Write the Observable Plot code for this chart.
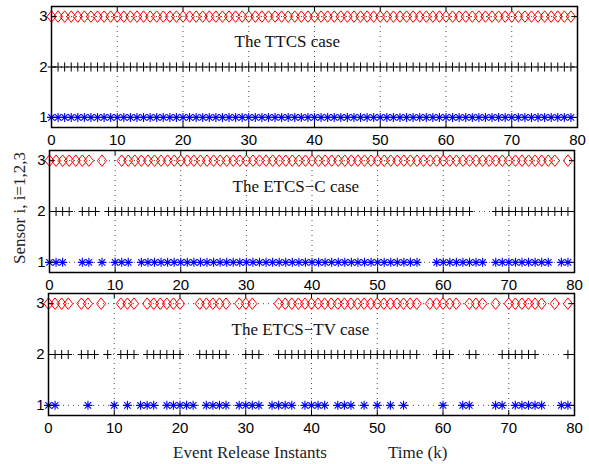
<!DOCTYPE html>
<html>
<head>
<meta charset="utf-8">
<script src="https://cdn.jsdelivr.net/npm/d3@7"></script>
<script src="https://cdn.jsdelivr.net/npm/@observablehq/plot@0.6"></script>
<style>
  html, body { margin: 0; padding: 0; background: white; }
  #chart { position: relative; width: 589px; height: 464px; overflow: hidden; background: white; }
  #chart svg { position: absolute; left: 0; }
  .lbl { position: absolute; font-family: "Liberation Serif", "Times New Roman", serif; font-size: 17px; color: #222; white-space: nowrap; line-height: 20px; }
</style>
</head>
<body>
<div id="chart"></div>
<script>
// ---- data: event release instants k for sensors 1, 2, 3 ----
const xTicks = [0, 10, 20, 30, 40, 50, 60, 70, 80];
const yTicks = [1, 2, 3];
const panelTitles = ["The TTCS case", "The ETCS\u2212C case", "The ETCS\u2212TV case"];

const ttcsInstants = [0,1,2,3,4,5,6,7,8,9,10,11,12,13,14,15,16,17,18,19,20,21,22,23,24,25,26,27,28,29,30,31,32,33,34,35,36,37,38,39,40,41,42,43,44,45,46,47,48,49,50,51,52,53,54,55,56,57,58,59,60,61,62,63,64,65,66,67,68,69,70,71,72,73,74,75,76,77,78,79];

const etcsCSensor3 = [0,1,2,3,4,5,6,8,11,12,13,14,15,16,17,18,19,20,21,22,23,24,25,26,27,28,29,30,31,32,33,34,35,36,37,38,39,40,41,42,43,44,45,46,47,48,49,50,51,52,53,54,55,56,57,58,59,60,61,62,63,64,65,66,67,68,69,70,71,72,73,74,75,76,77,79];
const etcsCSensor2 = [1,2,3,5,6,7,9,10,11,12,13,14,15,16,17,18,19,20,21,22,23,24,25,26,27,28,29,30,31,32,33,34,35,36,37,38,39,40,41,42,43,44,45,46,47,48,49,50,51,52,53,54,55,56,57,58,59,60,61,62,63,64,68,69,70,71,72,73,74,75,76,77,78,79];
const etcsCSensor1 = [0,1,2,5,6,8,10,11,12,14,15,16,17,18,19,20,21,22,23,24,25,26,27,28,29,30,31,32,33,34,35,36,37,38,39,40,41,42,43,44,45,46,47,48,49,50,51,52,53,54,55,56,59,60,61,62,63,64,65,66,68,69,70,71,72,73,74,75,76,78,79];

const etcsTVSensor3 = [0,1,2,3,5,6,8,11,12,13,15,16,17,18,19,20,23,24,25,26,27,29,30,31,35,36,37,38,39,40,41,42,43,44,45,46,47,48,49,50,51,52,53,54,55,56,58,59,60,61,62,64,65,66,68,70,71,72,73,74,75,77,79];
const etcsTVSensor2 = [1,2,3,5,6,7,9,11,12,13,15,16,17,18,19,20,23,24,25,26,27,30,31,32,35,36,37,38,39,40,41,42,43,44,45,46,47,48,49,50,51,52,53,54,55,56,59,60,61,64,65,69,70,71,72,73,74,79];
const etcsTVSensor1 = [0,1,6,10,12,14,15,16,18,19,20,21,22,24,25,26,27,29,30,31,32,34,35,36,37,39,40,41,42,44,45,46,48,50,52,54,60,63,64,68,69,71,72,73,74,75,78,79];

// ---- custom MATLAB-like marker shapes ----
const diamondSym = { draw(ctx, size) { const r = Math.sqrt(size / Math.PI); const h = r * 1.25;
  ctx.moveTo(0, -h); ctx.lineTo(r, 0); ctx.lineTo(0, h); ctx.lineTo(-r, 0); ctx.closePath(); } };
const plusSym = { draw(ctx, size) { const r = Math.sqrt(size / Math.PI); const h = r * 1.2;
  ctx.moveTo(-r, 0); ctx.lineTo(r, 0); ctx.moveTo(0, -h); ctx.lineTo(0, h); } };
const asteriskSym = { draw(ctx, size) { const r = Math.sqrt(size / Math.PI); const d = r * 0.72;
  ctx.moveTo(-r, 0); ctx.lineTo(r, 0); ctx.moveTo(0, -r); ctx.lineTo(0, r);
  ctx.moveTo(-d, -d); ctx.lineTo(d, d); ctx.moveTo(-d, d); ctx.lineTo(d, -d); } };

const chart = document.getElementById("chart");

function panel(cfg) {
  const {s1, s2, s3, title, top, height, mt, mb, ml, mr} = cfg;
  const fw = 589 - ml - mr, fh = height - mt - mb;
  const grid = {stroke: "#000", strokeOpacity: 0.7, strokeDasharray: "1,4", strokeWidth: 1};
  const svg = Plot.plot({
    width: 589, height,
    marginTop: mt, marginBottom: mb, marginLeft: ml, marginRight: mr,
    x: {domain: [0, 80]},
    y: {domain: [0.8, 3.2]},
    style: {background: "transparent", overflow: "visible", fontFamily: "'Liberation Sans', Arial, sans-serif", fontSize: "15px", color: "black"},
    marks: [
      Plot.ruleX(xTicks.slice(1, -1), {x: d => d, ...grid}),
      Plot.ruleY(yTicks, {y: d => d, ...grid}),
      Plot.dot(s3, {x: d => d, y: () => yTicks[2], symbol: diamondSym, r: 4.6, stroke: "#ff0000", strokeWidth: 1, fill: "none"}),
      Plot.dot(s2, {x: d => d, y: () => yTicks[1], symbol: plusSym, r: 3.8, stroke: "#000", strokeWidth: 1}),
      Plot.dot(s1, {x: d => d, y: () => yTicks[0], symbol: asteriskSym, r: 4.5, stroke: "#0000ff", strokeWidth: 1.1}),
      Plot.text([title], {text: d => d, frameAnchor: "left", textAnchor: "start", dx: 183, dy: -25,
        fontFamily: "'Liberation Serif', 'Times New Roman', serif", fontSize: 17, fill: "#111"}),
      Plot.tickX(xTicks, {x: d => d, insetTop: fh - 5, stroke: "#000"}),
      Plot.tickX(xTicks, {x: d => d, insetBottom: fh - 5, stroke: "#000"}),
      Plot.tickY(yTicks, {y: d => d, insetRight: fw - 5, stroke: "#000"}),
      Plot.tickY(yTicks, {y: d => d, insetLeft: fw - 5, stroke: "#000"}),
      Plot.frame({stroke: "#000", strokeWidth: 1.5}),
      Plot.axisX(xTicks, {tickSize: 0, tickPadding: 7, fontSize: 15, label: null, tickFormat: d => String(d)}),
      Plot.axisY(yTicks, {tickSize: 0, tickPadding: 4, fontSize: 15, label: null, tickFormat: d => String(d)})
    ]
  });
  svg.style.top = top + "px";
  chart.appendChild(svg);
}

panel({s1: ttcsInstants, s2: ttcsInstants, s3: ttcsInstants, title: panelTitles[0], top: 0, height: 148, mt: 6, mb: 21, ml: 51, mr: 12});
panel({s1: etcsCSensor1, s2: etcsCSensor2, s3: etcsCSensor3, title: panelTitles[1], top: 148, height: 144, mt: 2, mb: 20, ml: 49, mr: 15});
panel({s1: etcsTVSensor1, s2: etcsTVSensor2, s3: etcsTVSensor3, title: panelTitles[2], top: 292, height: 148, mt: 1, mb: 25, ml: 48, mr: 15});

// ---- axis titles ----
function addLabel(text, style) {
  const d = document.createElement("div");
  d.className = "lbl";
  d.textContent = text;
  Object.assign(d.style, style);
  chart.appendChild(d);
}
addLabel("Event Release Instants", {left: "173px", top: "443px"});
addLabel("Time (k)", {left: "388px", top: "443px"});
addLabel("Sensor i, i=1,2,3", {left: "20px", top: "208px", transform: "translate(-50%, -50%) rotate(-90deg)"});
</script>
</body>
</html>
